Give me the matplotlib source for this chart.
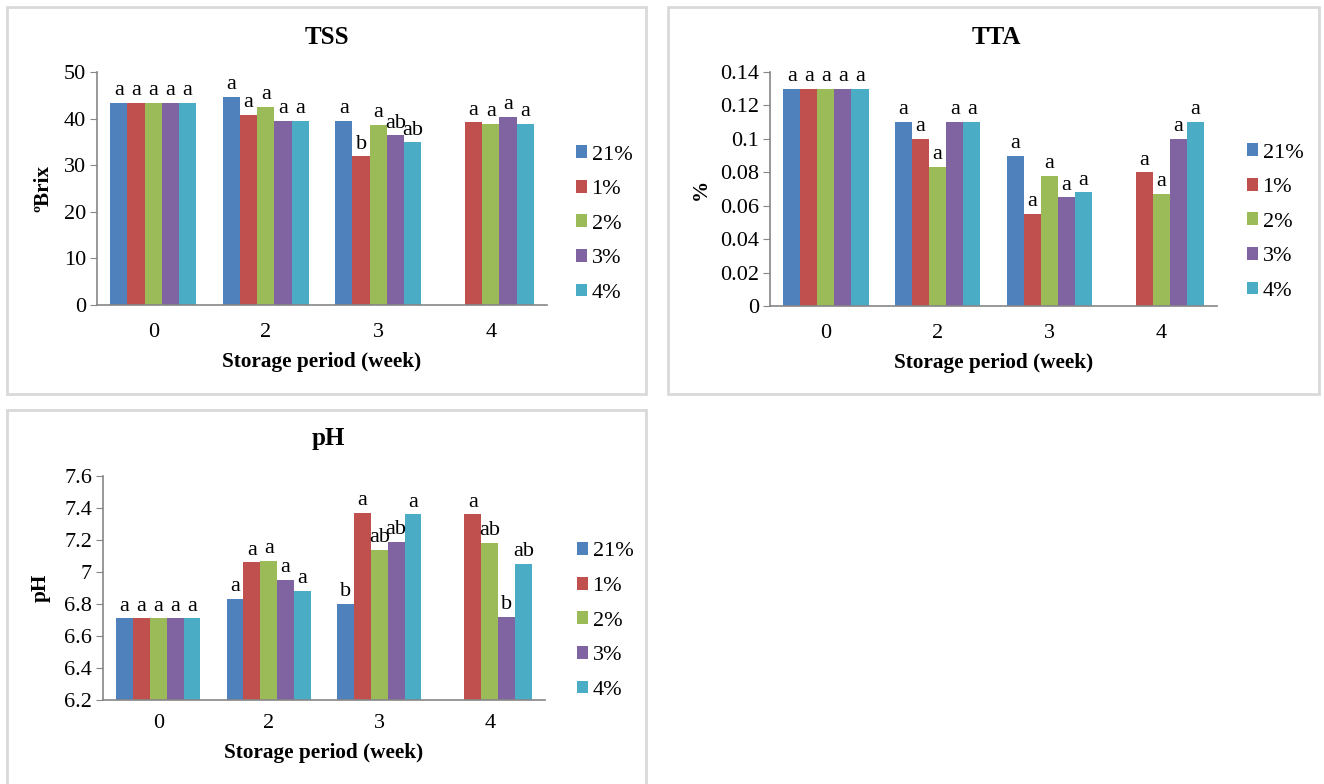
import matplotlib
matplotlib.use('Agg')
import matplotlib.pyplot as plt
import numpy as np
from matplotlib.patches import Rectangle, Patch

plt.rcParams['font.family'] = ['Liberation Serif', 'DejaVu Serif']

weeks = ['0', '2', '3', '4']
treatments = ['21%', '1%', '2%', '3%', '4%']
colors = ['#4F81BD', '#C0504D', '#9BBB59', '#8064A2', '#4BACC6']

# TSS (ºBrix), rows = treatment, columns = week
tss = np.array([
    [43.4, 44.6, 39.5, np.nan],
    [43.4, 40.8, 31.9, 39.2],
    [43.4, 42.5, 38.6, 38.8],
    [43.4, 39.5, 36.4, 40.3],
    [43.4, 39.5, 34.9, 38.8],
])
tss_letters = [
    ['a', 'a', 'a', ''],
    ['a', 'a', 'b', 'a'],
    ['a', 'a', 'a', 'a'],
    ['a', 'a', 'ab', 'a'],
    ['a', 'a', 'ab', 'a'],
]

# TTA (%)
tta = np.array([
    [0.130, 0.110, 0.090, np.nan],
    [0.130, 0.100, 0.055, 0.080],
    [0.130, 0.083, 0.078, 0.067],
    [0.130, 0.110, 0.065, 0.100],
    [0.130, 0.110, 0.068, 0.110],
])
tta_letters = [
    ['a', 'a', 'a', ''],
    ['a', 'a', 'a', 'a'],
    ['a', 'a', 'a', 'a'],
    ['a', 'a', 'a', 'a'],
    ['a', 'a', 'a', 'a'],
]

# pH
ph = np.array([
    [6.71, 6.83, 6.80, np.nan],
    [6.71, 7.06, 7.37, 7.36],
    [6.71, 7.07, 7.14, 7.18],
    [6.71, 6.95, 7.19, 6.72],
    [6.71, 6.88, 7.36, 7.05],
])
ph_letters = [
    ['a', 'a', 'b', ''],
    ['a', 'a', 'a', 'a'],
    ['a', 'a', 'ab', 'ab'],
    ['a', 'a', 'ab', 'b'],
    ['a', 'a', 'a', 'ab'],
]

W, H = 1324, 784
FS = 16
fig = plt.figure(figsize=(W / 100, H / 100), dpi=100)


def px_axes(x0, y0, x1, y1):
    # pixel box (top-left origin) -> figure axes
    return fig.add_axes([x0 / W, 1 - y1 / H, (x1 - x0) / W, (y1 - y0) / H])


def frame(x0, y0, x1, y1):
    fig.add_artist(Rectangle((x0 / W, 1 - y1 / H), (x1 - x0) / W, (y1 - y0) / H,
                             transform=fig.transFigure, fill=False,
                             edgecolor='#d9d9d9', linewidth=2))


def bar_panel(ax, data, letters, ylim, yticks, ylabel, ylabel_x, title, title_xy, legend_xy,
              xpad=13):
    group = 0.764
    bw = group / len(treatments)
    x = np.arange(len(weeks))
    for i, (name, c) in enumerate(zip(treatments, colors)):
        pos = x - group / 2 + bw * (i + 0.5)
        ax.bar(pos, data[i] - ylim[0], bw, bottom=ylim[0], color=c, label=name)
        for j in range(len(weeks)):
            if letters[i][j] and not np.isnan(data[i][j]):
                ax.annotate(letters[i][j], (pos[j], data[i][j]), xytext=(0, 2),
                            textcoords='offset points', ha='center', va='bottom',
                            fontsize=FS)
    ax.set_xlim(-0.5, len(weeks) - 0.5)
    ax.set_ylim(*ylim)
    ax.set_yticks(yticks)
    ax.set_yticklabels(['{:g}'.format(round(t, 3)) for t in yticks])
    ax.set_xticks(x)
    ax.set_xticklabels(weeks)
    ax.tick_params(axis='x', length=0, pad=xpad, labelsize=FS)
    ax.tick_params(axis='y', length=5, color='#868686', pad=3, labelsize=FS)
    for s in ['top', 'right']:
        ax.spines[s].set_visible(False)
    for s in ['left', 'bottom']:
        ax.spines[s].set_color('#868686')
        ax.spines[s].set_linewidth(1.2)
    ax.set_xlabel('Storage period (week)', fontsize=15.3, fontweight='bold', labelpad=7)
    ax.set_ylabel(ylabel, fontsize=15.3, fontweight='bold')
    ax.yaxis.set_label_coords(ylabel_x, 0.5)
    fig.text(title_xy[0] / W, 1 - title_xy[1] / H, title, ha='center', va='center',
             fontsize=18, fontweight='bold')
    handles = [Patch(facecolor=c, label=n) for n, c in zip(treatments, colors)]
    fig.legend(handles=handles, loc='center left',
               bbox_to_anchor=(legend_xy[0] / W, 1 - legend_xy[1] / H),
               frameon=False, fontsize=FS, handlelength=0.5, handleheight=0.5,
               handletextpad=0.2, labelspacing=0.69, borderpad=0, borderaxespad=0)


frame(7, 7, 646, 394)
frame(668, 7, 1319, 394)
frame(7, 410, 646, 800)

ax1 = px_axes(97, 72, 547, 305)
bar_panel(ax1, tss, tss_letters, (0, 50), np.arange(0, 51, 10), 'ºBrix', -0.096, 'TSS',
          (327, 37), (576, 224))

ax2 = px_axes(770, 72, 1217, 306)
bar_panel(ax2, tta, tta_letters, (0, 0.14), np.linspace(0, 0.14, 8), '%', -0.132, 'TTA',
          (996, 37), (1247, 222))

ax3 = px_axes(103, 476, 545, 700)
bar_panel(ax3, ph, ph_letters, (6.2, 7.6), np.linspace(6.2, 7.6, 8), 'pH', -0.118, 'pH',
          (328, 438), (577, 621), xpad=10)

fig.savefig('out.png', dpi=100)
